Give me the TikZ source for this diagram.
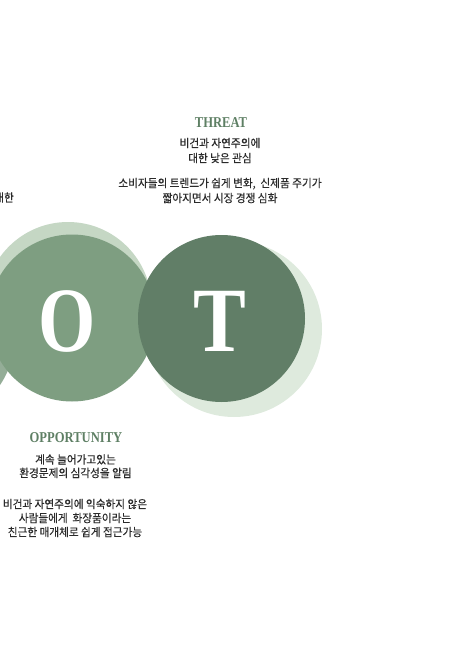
\documentclass[tikz,border=0pt]{standalone}
\usepackage{fontspec}
\setmainfont{Liberation Serif}
\newfontfamily\hd[FakeStretch=0.84]{Liberation Serif}
\newfontfamily\kr[FakeStretch=0.925,FakeBold=0.35]{Noto Sans CJK KR}
\definecolor{oshadow}{HTML}{C5D7C4}
\definecolor{ofill}{HTML}{7E9E81}
\definecolor{tshadow}{HTML}{DEEADD}
\definecolor{tfill}{HTML}{617E67}
\definecolor{wpiece}{HTML}{94AD97}
\definecolor{headc}{HTML}{5E7F64}
\definecolor{bodyc}{HTML}{2A2A2A}
\tikzset{
  disc/.style={circle, inner sep=0pt, minimum size=#1},
  bigletter/.style={text=white, inner sep=0pt, font=\fontsize{92}{92}\selectfont\bfseries},
  heading/.style={text=headc, inner sep=0pt, font=\hd\bfseries\fontsize{15}{15}\selectfont},
  bodytext/.style={text=bodyc, inner sep=0pt, align=center, font=\kr\fontsize{11.5}{#1}\selectfont},
}
\begin{document}
\begin{tikzpicture}[x=1pt,y=-1pt]
\useasboundingbox (0,0) rectangle (458,646);
\begin{scope}
\clip (0,0) rectangle (458,646);
% circles
\node[disc=167pt, fill=wpiece] (wsh) at (-69,338) {};
\node[disc=167pt, fill=oshadow] (osh) at (68,305.5) {};
\node[disc=167pt, fill=ofill] (oc) at (72,318) {};
\node[disc=176pt, fill=tshadow] (tsh) at (234,329) {};
\node[disc=167pt, fill=tfill] (tc) at (221.5,318.5) {};
\node[bigletter] (ol) at (67.5,321) {\addfontfeatures{FakeStretch=0.8}O};
\node[bigletter] (tl) at (220,321) {\addfontfeatures{FakeStretch=0.86}T};
% threat texts
\node[heading] (th) at (221,123) {THREAT};
\node[bodytext=15] (t1) at (220,150.5) {비건과 자연주의에\\대한 낮은 관심};
\node[bodytext=15] (t2) at (220,190.5) {소비자들의 트렌드가 쉽게 변화,\ \ 신제품 주기가\\짧아지면서 시장 경쟁 심화};
% left cut text
\node[bodytext=15, anchor=east] (w4) at (14,197.5) {대한};
% opportunity texts
\node[heading] (oh) at (76,438) {OPPORTUNITY};
\node[bodytext=13.5] (o1) at (75.5,466.2) {계속 늘어가고있는\\환경문제의 심각성을 알림};
\node[bodytext=14] (o2) at (75,518) {비건과 자연주의에 익숙하지 않은\\사람들에게\ \ 화장품이라는\\친근한 매개체로 쉽게 접근가능};
\end{scope}
\end{tikzpicture}
\end{document}
